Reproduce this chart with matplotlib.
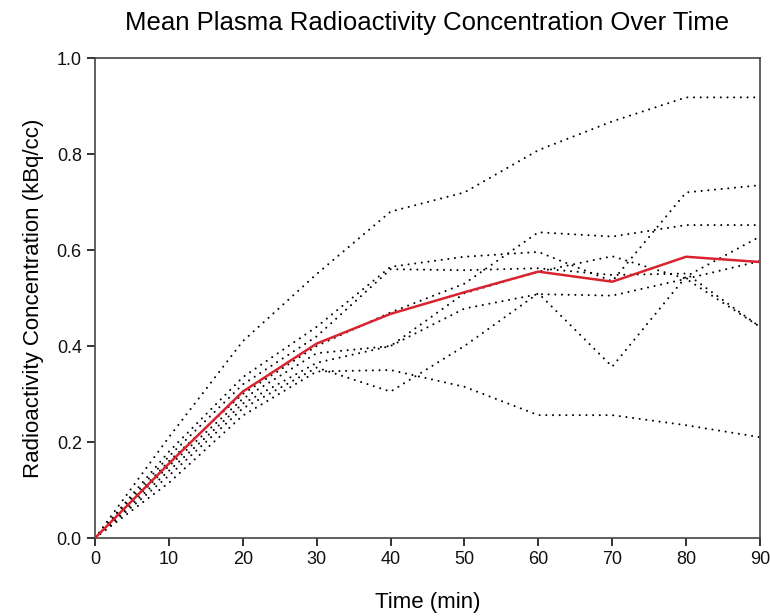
import matplotlib
matplotlib.use("Agg")
import matplotlib.pyplot as plt

plt.rcParams['font.family'] = ['Liberation Sans', 'DejaVu Sans']

# time points (min)
time = [0, 10, 20, 30, 40, 50, 60, 70, 80, 90]

# individual subjects (kBq/cc)
subj1 = [0, 0.21, 0.41, 0.55, 0.68, 0.72, 0.808, 0.868, 0.918, 0.918]
subj2 = [0, 0.18, 0.335, 0.44, 0.565, 0.586, 0.596, 0.535, 0.72, 0.735]
subj3 = [0, 0.17, 0.32, 0.42, 0.56, 0.558, 0.562, 0.548, 0.551, 0.44]
subj4 = [0, 0.16, 0.30, 0.40, 0.47, 0.53, 0.637, 0.628, 0.652, 0.652]
subj5 = [0, 0.15, 0.29, 0.385, 0.40, 0.51, 0.555, 0.587, 0.54, 0.44]
subj6 = [0, 0.14, 0.28, 0.365, 0.40, 0.478, 0.508, 0.505, 0.54, 0.577]
subj7 = [0, 0.13, 0.27, 0.355, 0.305, 0.40, 0.51, 0.357, 0.545, 0.628]
subj8 = [0, 0.115, 0.255, 0.347, 0.35, 0.315, 0.256, 0.256, 0.235, 0.21]

# mean curve
mean_conc = [0, 0.155, 0.305, 0.405, 0.467, 0.512, 0.555, 0.534, 0.586, 0.575]

subjects = [subj1, subj2, subj3, subj4, subj5, subj6, subj7, subj8]

fig = plt.figure(figsize=(7.7, 6.16), dpi=100)
ax = fig.add_axes([0.1234, 0.1266, 0.8636, 0.7792])

for s in subjects:
    ax.plot(time, s, color='black', lw=1.5, linestyle=(0, (0.01, 3.2)),
            dash_capstyle='round')

ax.plot(time, mean_conc, color='#d9232e', lw=1.8, zorder=5)

ax.set_xlim(0, 90)
ax.set_ylim(0, 1.0)
ax.set_xticks(range(0, 91, 10))
ax.set_yticks([0.0, 0.2, 0.4, 0.6, 0.8, 1.0])
ax.set_yticklabels(['0.0', '0.2', '0.4', '0.6', '0.8', '1.0'])
ax.tick_params(direction='out', length=6, width=1.2, labelsize=13,
               colors='#111111')

for sp in ax.spines.values():
    sp.set_linewidth(1.2)
    sp.set_color('#444444')

ax.set_xlabel('Time (min)', fontsize=16, labelpad=17)
ax.set_ylabel('Radioactivity Concentration (kBq/cc)', fontsize=16, labelpad=9)
ax.set_title('Mean Plasma Radioactivity Concentration Over Time',
             fontsize=18.5, pad=20)

fig.savefig('out.png', dpi=100)
